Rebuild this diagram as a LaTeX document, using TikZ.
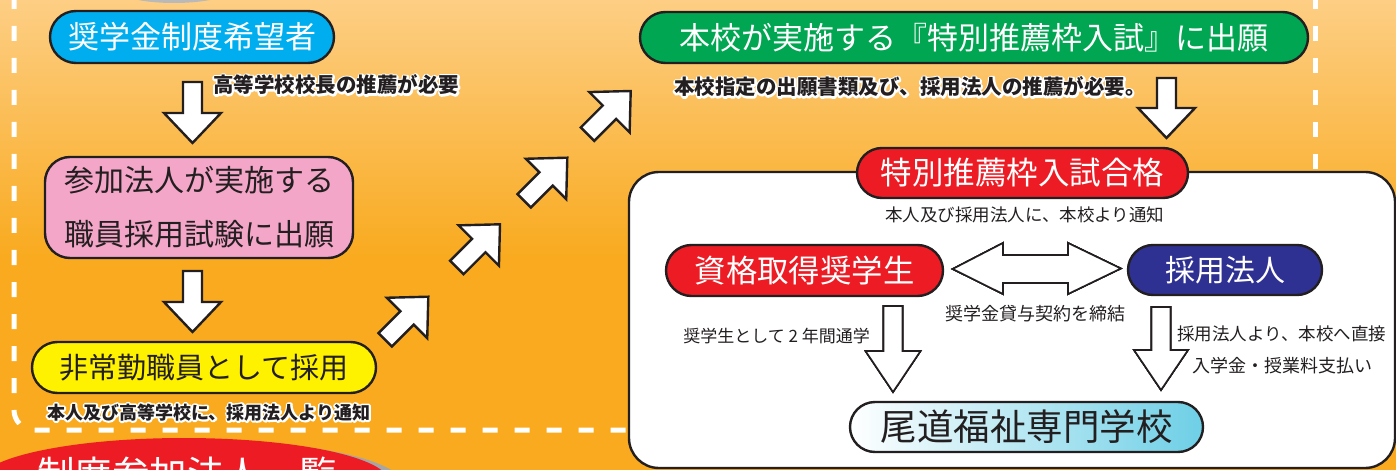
\documentclass[tikz,border=0pt]{standalone}
\usepackage{fontspec}
\setmainfont{Noto Sans CJK JP}
\usetikzlibrary{calc}
\definecolor{fondo}{RGB}{249,170,30}
\definecolor{fondoclaro}{RGB}{253,206,132}
\definecolor{tinta}{RGB}{35,31,32}
\definecolor{celeste}{RGB}{0,174,239}
\definecolor{rosa}{RGB}{244,166,200}
\definecolor{amarillo}{RGB}{255,242,0}
\definecolor{verde}{RGB}{0,166,81}
\definecolor{rojo}{RGB}{237,28,36}
\definecolor{azul}{RGB}{46,49,146}
\definecolor{agua}{RGB}{109,207,230}

% flecha de bloque: [estilo]{punta}{giro}{largo}{cabeza}{media cabeza}
\newcommand\bloque[6][]{%
  \draw[flecha,#1,shift={(#2)},rotate=#3] (0,0) -- (#6,-#5) -- (9.5,-#5) -- (9.5,-#4)
    -- (-9.5,-#4) -- (-9.5,-#5) -- (-#6,-#5) -- cycle;}

% texto con borde blanco: nombre, posicion, tamano, texto
\newcommand\halo[4]{%
  \node[nota, text=white, font=\bfseries\fontsize{#3}{#3}\selectfont] at (#2)
    {\special{pdf:literal direct 1 Tr 3.8 w 1 j 1 1 1 RG}#4\special{pdf:literal direct 0 Tr}};
  \node[nota, font=\bfseries\fontsize{#3}{#3}\selectfont] (#1) at (#2) {#4};}

\begin{document}
\begin{tikzpicture}[x=1pt, y=-1pt,
    caja/.style={draw=tinta, line width=2.4pt, inner sep=0pt, align=center, text=white},
    flecha/.style={draw=tinta, fill=white, line width=2.4pt, line join=miter},
    nota/.style={inner sep=0pt, anchor=west, text=tinta},
    borde/.style={white, line width=5pt, dash pattern=on 15pt off 17pt}]

    % Fondo
    \useasboundingbox (0,0) rectangle (1396,470);
    \clip (0,0) rectangle (1396,470);
    \fill[fondo] (0,0) rectangle (1396,470);
    \shade[top color=fondoclaro, bottom color=fondo] (0,0) rectangle (1396,260);
    \fill[gray!55] (174,-10) ellipse[x radius=56, y radius=13];

    % Borde punteado
    \draw[borde] (14,-6) -- (14,410) arc[start angle=180, end angle=90, radius=20] -- (640,430);
    \draw[borde] (1315,-6) -- (1315,180);

    % Lista (abajo)
    \fill[gray!70] (192,484) ellipse[x radius=210, y radius=44];
    \fill[rojo] (184,482) ellipse[x radius=205, y radius=44];
    \node[nota, text=white, font=\fontsize{37.5}{37.5}\selectfont] (lista) at (37,474) {制度参加法人一覧};

    % Caja blanca
    \draw[fill=white, draw=tinta, line width=2.4pt, rounded corners=30pt] (629,172) rectangle (1395,468);

    % Nodos
    \node[caja, fill=celeste, minimum width=284pt, minimum height=52pt, rounded corners=26pt,
        font=\fontsize{31}{31}\selectfont] (kibou) at (192,37) {奨学金制度希望者};
    \node[caja, fill=rosa, text=tinta, minimum width=308pt, minimum height=101pt, rounded corners=25pt,
        font=\fontsize{30}{54}\selectfont] (sanka) at (199,207.5) {参加法人が実施する\\職員採用試験に出願};
    \node[caja, fill=amarillo, text=tinta, minimum width=344pt, minimum height=51pt, rounded corners=25.5pt,
        font=\fontsize{29}{29}\selectfont] (hijoukin) at (204,367.5) {非常勤職員として採用};
    \node[caja, fill=verde, minimum width=668pt, minimum height=51pt, rounded corners=25.5pt,
        font=\fontsize{31}{31}\selectfont] (shutsugan) at (974,37.5) {本校が実施する『特別推薦枠入試』に出願};
    \node[caja, fill=rojo, minimum width=331pt, minimum height=50pt, rounded corners=25pt,
        font=\fontsize{31.5}{31.5}\selectfont] (goukaku) at (1022.5,173) {特別推薦枠入試合格};
    \node[caja, fill=rojo, minimum width=277pt, minimum height=51pt, rounded corners=25.5pt,
        font=\fontsize{31.4}{31.4}\selectfont] (shikaku) at (804.5,270.5) {資格取得奨学生};
    \node[caja, fill=azul, minimum width=194pt, minimum height=50pt, rounded corners=25pt,
        font=\fontsize{30}{30}\selectfont] (houjin) at (1225,270) {採用法人};
    \node[caja, left color=white, right color=agua, text=tinta, minimum width=353pt, minimum height=50pt,
        rounded corners=25pt, font=\fontsize{36.5}{36.5}\selectfont] (gakko) at (1026.5,427) {尾道福祉専門学校};

    % Flechas
    \bloque{192.5,143}{0}{61}{30}{28.5}
    \bloque{192.5,332}{0}{61}{30}{28.5}
    \bloque{1166.5,138}{0}{60}{30}{28.5}
    \foreach \px/\py in {428.3/296.7, 500/224.3, 567.3/157.7, 630.7/91}
        \bloque{\px,\py}{135}{61}{30}{28.5}
    \bloque[line width=1.6pt]{893,392}{0}{86}{41}{27.5}
    \bloque[line width=1.6pt]{1161,390}{0}{83}{40}{27}
    \draw[flecha, line width=1.6pt] ($(shikaku.east)+(8.5,-1.5)$) -- (1003,243) -- (1003,255) -- (1068,255)
        -- (1068,243) -- ($(houjin.west)+(-6,-1.5)$) -- (1068,294) -- (1068,283) -- (1003,283) -- (1003,294) -- cycle;

    % Etiquetas
    \node[nota, font=\fontsize{17.5}{17.5}\selectfont] (nota4) at (885,215) {本人及び採用法人に、本校より通知};
    \node[nota, font=\fontsize{18}{18}\selectfont] (nota5) at (945,313.5) {奨学金貸与契約を締結};
    \node[nota, anchor=east, font=\fontsize{17}{17}\selectfont] (nota6) at (870,336.5) {奨学生として 2 年間通学};
    \node[nota, font=\fontsize{17.5}{17.5}\selectfont] (nota7) at (1177,333.5) {採用法人より、本校へ直接};
    \node[nota, font=\fontsize{18}{18}\selectfont] (nota8) at (1192,365.5) {入学金・授業料支払い};
    \halo{nota1}{213,85}{20.5}{高等学校校長の推薦が必要}
    \halo{nota2}{47,412.5}{18}{本人及び高等学校に、採用法人より通知}
    \halo{nota3}{674,87}{20.5}{本校指定の出願書類及び、採用法人の推薦が必要。}

\end{tikzpicture}
\end{document}
